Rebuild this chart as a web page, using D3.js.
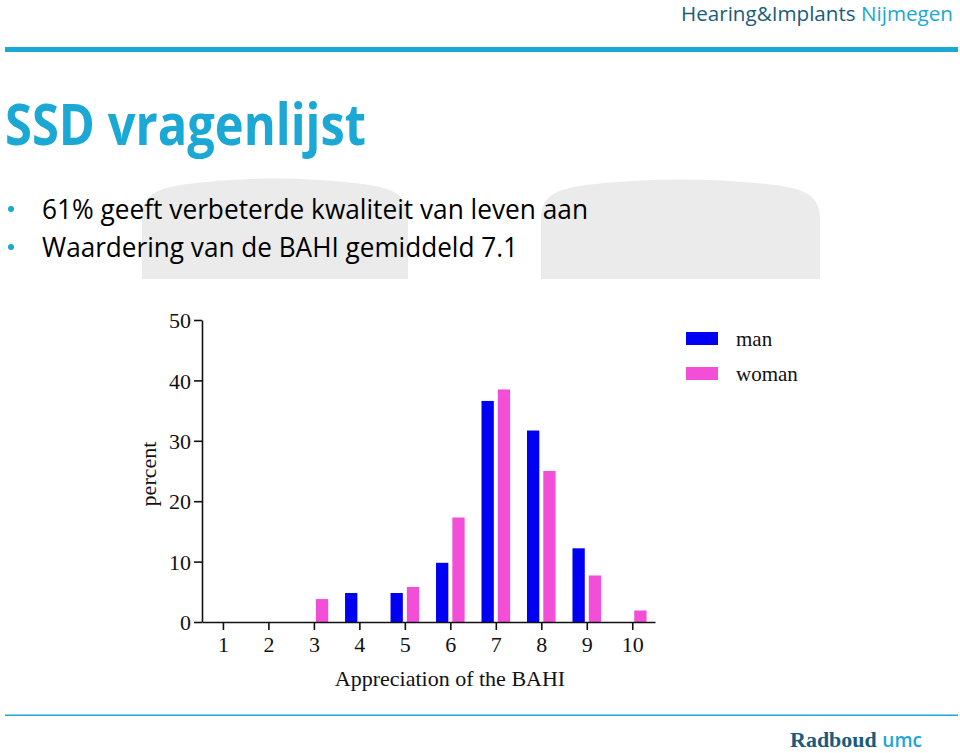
<!DOCTYPE html>
<html>
<head>
<meta charset="utf-8">
<script src="https://cdn.jsdelivr.net/npm/d3@7"></script>
<style>
  html, body { margin: 0; padding: 0; background: #fff; }
  svg { display: block; }
</style>
</head>
<body>
<div id="viz"></div>
<script>
const width = 960;
const height = 753;

// data
const scores = [1, 2, 3, 4, 5, 6, 7, 8, 9, 10];
const man = [0, 0, 0, 4.8, 4.8, 9.8, 36.6, 31.7, 12.2, 0];
const woman = [0, 0, 3.8, 0, 5.8, 17.3, 38.5, 25.0, 7.7, 1.9];
const yTicks = [0, 10, 20, 30, 40, 50];
const seriesNames = ['man', 'woman'];
const seriesColors = ['#0000f4', '#f24ed8'];

const bullets = [
  '61% geeft verbeterde kwaliteit van leven aan',
  'Waardering van de BAHI gemiddeld 7.1'
];

const teal = '#1ba8d5';
const darkTeal = '#1a5b7c';
const serif = '"Liberation Serif", "Times New Roman", serif';
const sans = '"Open Sans", "Noto Sans", sans-serif';

const svg = d3.select('#viz').append('svg')
  .attr('width', width)
  .attr('height', height);

// slide decorations
svg.append('text')
  .attr('x', 953).attr('y', 21)
  .attr('text-anchor', 'end')
  .attr('font-family', sans)
  .attr('font-size', 20)
  .attr('textLength', 272)
  .attr('lengthAdjust', 'spacingAndGlyphs')
  .html(`<tspan fill="${darkTeal}">Hearing&amp;Implants</tspan><tspan fill="${teal}"> Nijmegen</tspan>`);

svg.append('rect')
  .attr('x', 5).attr('y', 47).attr('width', 953).attr('height', 5)
  .attr('fill', teal);

// grey rounded shapes behind the bullets
const blob = (x0, x1, y0, y1) => `
  M${x0},${y1}
  L${x0},${y0 + 40}
  C${x0},${y0 + 16} ${x0 + 16},${y0 + 10} ${x0 + 45},${y0 + 6}
  Q${(x0 + x1) / 2},${y0 - 5} ${x1 - 45},${y0 + 6}
  C${x1 - 16},${y0 + 10} ${x1},${y0 + 16} ${x1},${y0 + 40}
  L${x1},${y1} Z`;

svg.append('path').attr('d', blob(142, 408, 178, 279)).attr('fill', '#ebebeb');
svg.append('path').attr('d', blob(541, 820, 179, 279)).attr('fill', '#ebebeb');

svg.append('text')
  .attr('x', 5).attr('y', 145)
  .attr('font-family', sans)
  .attr('font-weight', 'bold')
  .attr('font-size', 58)
  .attr('fill', teal)
  .attr('textLength', 361)
  .attr('lengthAdjust', 'spacingAndGlyphs')
  .text('SSD vragenlijst');

const bulletLen = [546, 476];
bullets.forEach((b, i) => {
  const by = 219 + i * 38;
  svg.append('circle')
    .attr('cx', 11).attr('cy', by - 10).attr('r', 3)
    .attr('fill', teal);
  svg.append('text')
    .attr('x', 42).attr('y', by)
    .attr('font-family', sans)
    .attr('font-size', 27)
    .attr('fill', '#000')
    .attr('textLength', bulletLen[i])
    .attr('lengthAdjust', 'spacingAndGlyphs')
    .text(b);
});

svg.append('rect')
  .attr('x', 5).attr('y', 714.5).attr('width', 953).attr('height', 1.5)
  .attr('fill', teal);

svg.append('text')
  .attr('x', 790).attr('y', 747)
  .attr('font-family', serif)
  .attr('font-weight', 'bold')
  .attr('font-size', 22)
  .attr('fill', darkTeal)
  .text('Radboud');

svg.append('text')
  .attr('x', 922).attr('y', 747)
  .attr('text-anchor', 'end')
  .attr('font-family', sans)
  .attr('font-weight', 600)
  .attr('font-size', 19)
  .attr('fill', teal)
  .text('umc');

// chart
const x = d3.scaleLinear()
  .domain([0.54, 10.5])
  .range([202, 655]);

const y = d3.scaleLinear()
  .domain([0, 50])
  .range([622, 320]);

const barW = 12.3;
const gap = 2;

const chart = svg.append('g');

const rows = scores.map((s, i) => ({ s, man: man[i], woman: woman[i] }));

seriesNames.forEach((name, k) => {
  chart.append('g')
    .selectAll('rect')
    .data(rows.filter(d => d[name] > 0))
    .join('rect')
    .attr('x', d => k === 0 ? x(d.s) - gap - barW : x(d.s) + gap)
    .attr('y', d => y(d[name]))
    .attr('width', barW)
    .attr('height', d => y(0) - y(d[name]))
    .attr('fill', seriesColors[k]);
});

const yAxis = chart.append('g')
  .attr('transform', `translate(${x.range()[0]},0)`)
  .call(d3.axisLeft(y).tickValues(yTicks).tickSize(8).tickSizeOuter(0).tickPadding(3));

const xAxis = chart.append('g')
  .attr('transform', `translate(0,${y(0)})`)
  .call(d3.axisBottom(x).tickValues(scores).tickSize(8).tickSizeOuter(0).tickPadding(6));

[yAxis, xAxis].forEach(ax => {
  ax.selectAll('path, line').attr('stroke', '#111').attr('stroke-width', 1.6);
  ax.selectAll('text')
    .attr('font-family', serif)
    .attr('font-size', 22)
    .attr('fill', '#111');
});
yAxis.selectAll('text').attr('dy', '0.35em');

chart.append('text')
  .attr('transform', `translate(156,${y(24.5)}) rotate(-90)`)
  .attr('text-anchor', 'middle')
  .attr('font-family', serif)
  .attr('font-size', 22)
  .attr('fill', '#111')
  .text('percent');

chart.append('text')
  .attr('x', 450).attr('y', 686)
  .attr('text-anchor', 'middle')
  .attr('font-family', serif)
  .attr('font-size', 22)
  .attr('fill', '#111')
  .text('Appreciation of the BAHI');

const legend = chart.append('g')
  .selectAll('g')
  .data(seriesNames)
  .join('g')
  .attr('transform', (d, i) => `translate(686,${332 + i * 35})`);

legend.append('rect')
  .attr('width', 32).attr('height', 13)
  .attr('fill', (d, i) => seriesColors[i]);

legend.append('text')
  .attr('x', 50).attr('y', 14)
  .attr('font-family', serif)
  .attr('font-size', 21)
  .attr('fill', '#111')
  .text(d => d);
</script>
</body>
</html>
